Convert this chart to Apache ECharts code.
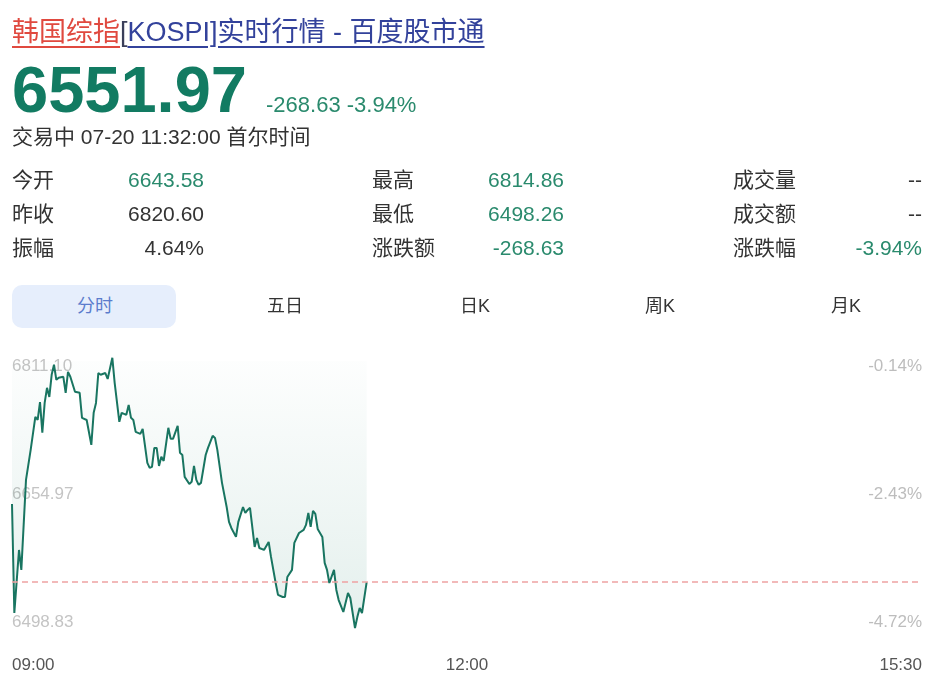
<!DOCTYPE html>
<html><head><meta charset="utf-8">
<script src="https://cdn.jsdelivr.net/npm/echarts@6/dist/echarts.min.js"></script>
<style>
html,body{margin:0;padding:0;background:#fff;}
body{width:945px;height:693px;position:relative;overflow:hidden;font-family:"Liberation Sans","Noto Sans CJK SC",sans-serif;color:#333;}
#chart{position:absolute;left:0;top:0;width:945px;height:693px;}
.t{position:absolute;white-space:nowrap;z-index:2;}
#title{left:12px;top:16px;font-size:27px;line-height:32px;}
#title .red{color:#e0493f;text-decoration:underline;text-underline-offset:5px;text-decoration-thickness:1.5px;}
#title .blue{color:#33429b;text-decoration:underline;text-underline-offset:5px;text-decoration-thickness:1.5px;}
#title .br{color:#3a3f5a;}
#price{left:12px;top:57px;font-size:65px;line-height:65px;font-weight:bold;color:#127b62;}
#chg{left:266px;top:94px;font-size:22px;line-height:22px;color:#2a8a6d;}
#time{left:12px;top:125px;font-size:21px;line-height:24px;color:#333;}
.lab{font-size:21px;line-height:24px;color:#333;}
.val{font-size:21px;line-height:24px;text-align:right;}
#pill{position:absolute;left:12px;top:285px;width:164px;height:43px;border-radius:10px;background:#e6eefc;z-index:1;}
.tab{font-size:18px;line-height:24px;top:294px;transform:translateX(-50%);color:#333;}
</style></head><body>
<div id="chart"></div>
<div id="title" class="t"><span class="red">韩国综指</span><span class="br">[</span><span class="blue">KOSPI]实时行情 - 百度股市通</span></div>
<div id="price" class="t">6551.97</div>
<div id="chg" class="t">-268.63 -3.94%</div>
<div id="time" class="t">交易中 07-20 11:32:00 首尔时间</div>
<div id="pill"></div>
<script>
// ---- data ----
const prevClose = 6820.60;
const lastPrice = 6551.97;
const statLabels = [['今开','昨收','振幅'],['最高','最低','涨跌额'],['成交量','成交额','涨跌幅']];
const statValues = [['6643.58','6820.60','4.64%'],['6814.86','6498.26','-268.63'],['--','--','-3.94%']];
const statIsDown = [[true,false,false],[true,true,true],[false,false,true]];
const tabNames = ['分时','五日','日K','周K','月K'];
const times = ['09:00','09:01','09:03','09:04','09:06','09:08','09:10','09:11','09:12','09:13','09:14','09:15','09:16','09:17','09:18','09:19','09:20','09:22','09:23','09:24','09:25','09:27','09:29','09:30','09:32','09:34','09:35','09:36','09:37','09:38','09:40','09:41','09:43','09:44','09:46','09:47','09:49','09:50','09:51','09:52','09:53','09:55','09:56','09:58','09:59','10:00','10:01','10:02','10:03','10:04','10:05','10:07','10:08','10:09','10:11','10:12','10:13','10:14','10:16','10:17','10:18','10:19','10:20','10:21','10:23','10:24','10:26','10:27','10:28','10:30','10:32','10:33','10:34','10:36','10:37','10:39','10:40','10:41','10:42','10:44','10:45','10:46','10:48','10:50','10:51','10:53','10:54','10:56','10:57','10:58','11:00','11:01','11:03','11:05','11:06','11:07','11:08','11:09','11:10','11:11','11:13','11:14','11:15','11:16','11:18','11:19','11:20','11:22','11:24','11:25','11:27','11:28','11:29','11:30','11:32'];
const values = [6643.58,6515.8,6589.7,6566.3,6671.8,6707.0,6745.7,6742.0,6763.0,6727.0,6762.0,6779.7,6769.0,6794.9,6806.7,6789.0,6791.4,6792.6,6773.8,6798.4,6792.6,6775.0,6773.8,6744.5,6742.0,6712.9,6750.4,6762.0,6797.0,6795.0,6797.0,6790.0,6814.86,6785.5,6739.8,6750.4,6748.0,6759.7,6744.5,6742.0,6728.0,6725.7,6731.6,6691.7,6685.9,6687.0,6709.3,6709.3,6688.2,6698.8,6694.0,6732.8,6719.9,6719.9,6735.0,6703.5,6701.0,6675.3,6667.0,6669.5,6688.2,6671.8,6666.0,6668.3,6701.0,6709.3,6723.4,6721.0,6707.0,6668.3,6640.0,6622.6,6615.5,6605.0,6622.6,6640.0,6633.0,6636.6,6639.0,6593.2,6603.7,6592.0,6589.7,6599.0,6581.5,6551.0,6537.0,6534.6,6534.6,6558.0,6566.3,6598.0,6609.6,6613.2,6619.0,6633.0,6616.7,6635.4,6631.9,6614.3,6605.0,6574.5,6566.3,6551.0,6566.3,6542.8,6531.0,6517.0,6539.3,6533.4,6498.26,6511.0,6521.7,6515.8,6551.97];
const yTicks = [6498.83, 6654.97, 6811.10];
const xTickValues = [0, 195, 390];
const xTickLabels = ['09:00', '12:00', '15:30'];

// ---- header table & tabs ----
const colLabelX = [12, 372, 733];
const colValRight = [945-204, 945-564, 945-922];
const rowTop = [168, 202, 236];
for (let c = 0; c < 3; c++) {
  for (let r = 0; r < 3; r++) {
    const l = document.createElement('div');
    l.className = 't lab'; l.textContent = statLabels[c][r];
    l.style.left = colLabelX[c] + 'px'; l.style.top = rowTop[r] + 'px';
    document.body.appendChild(l);
    const v = document.createElement('div');
    v.className = 't val'; v.textContent = statValues[c][r];
    v.style.right = colValRight[c] + 'px'; v.style.top = rowTop[r] + 'px';
    v.style.color = statIsDown[c][r] ? '#2a8a6d' : '#333';
    document.body.appendChild(v);
  }
}
const tabCenters = [95, 285, 475, 660, 846];
tabNames.forEach((n, i) => {
  const d = document.createElement('div');
  d.className = 't tab'; d.textContent = n;
  d.style.left = tabCenters[i] + 'px';
  if (i === 0) d.style.color = '#5b7ccc';
  document.body.appendChild(d);
});

// ---- chart ----
function toMin(t) { const p = t.split(':').map(Number); return (p[0] - 9) * 60 + p[1]; }
const seriesData = times.map((t, i) => [toMin(t), values[i]]);
const chart = echarts.init(document.getElementById('chart'), null, {renderer: 'canvas'});
const yLabelBase = {inside: true, margin: 0, customValues: yTicks, fontSize: 17, lineHeight: 10, fontFamily: 'Liberation Sans',
  verticalAlignMinLabel: 'bottom', verticalAlignMaxLabel: 'top'};
chart.setOption({
  animation: false,
  backgroundColor: '#fff',
  grid: {left: 12, right: 23, top: 361, bottom: 65.5},
  xAxis: {
    type: 'value', min: 0, max: 390,
    axisLine: {show: false}, axisTick: {show: false}, splitLine: {show: false},
    axisLabel: {customValues: xTickValues, formatter: v => xTickLabels[xTickValues.indexOf(v)],
      alignMinLabel: 'left', alignMaxLabel: 'right', color: '#555', fontSize: 17, margin: 29, fontFamily: 'Liberation Sans'}
  },
  yAxis: [
    {type: 'value', min: yTicks[0], max: yTicks[2], position: 'left',
      axisLine: {show: false}, axisTick: {show: false}, splitLine: {show: false},
      axisLabel: Object.assign({}, yLabelBase, {color: '#c4c4c4', formatter: v => v.toFixed(2)})},
    {type: 'value', min: yTicks[0], max: yTicks[2], position: 'right',
      axisLine: {show: false}, axisTick: {show: false}, splitLine: {show: false},
      axisLabel: Object.assign({}, yLabelBase, {color: '#bdbdbd', formatter: v => ((v / prevClose - 1) * 100).toFixed(2) + '%'})}
  ],
  series: [{
    type: 'line', data: seriesData, showSymbol: false, clip: false, silent: true,
    lineStyle: {color: '#197561', width: 2},
    areaStyle: {origin: 'end', color: new echarts.graphic.LinearGradient(0, 0, 0, 1, [
      {offset: 0, color: 'rgba(26,125,100,0.01)'}, {offset: 1, color: 'rgba(26,125,100,0.17)'}])},
    markLine: {silent: true, symbol: ['none', 'none'], label: {show: false},
      lineStyle: {color: '#eea3a3', type: [6, 4], width: 1.5}, data: [{yAxis: lastPrice}]}
  }]
});
</script>
</body></html>
